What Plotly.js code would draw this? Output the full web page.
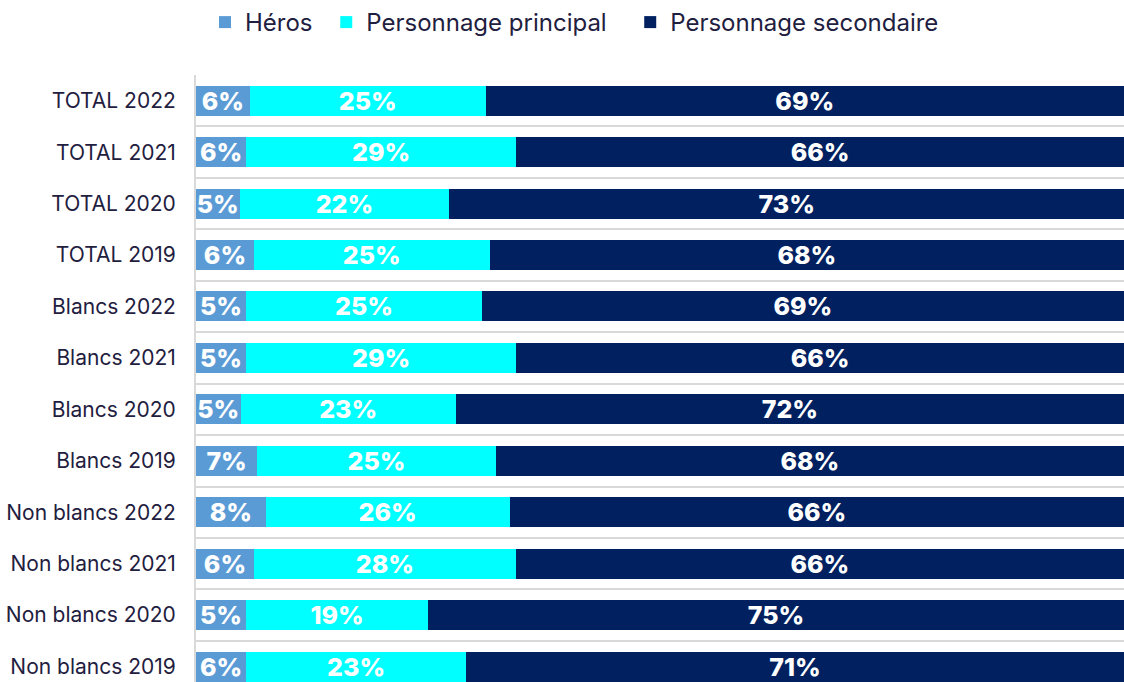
<!DOCTYPE html>
<html>
<head>
<meta charset="utf-8">
<script src="https://cdn.plot.ly/plotly-3.0.1.min.js"></script>
<style>html,body{margin:0;padding:0;background:#fff;}#chart{width:1124px;height:682px;}</style>
</head>
<body>
<div id="chart"></div>
<script>
var categories = ["TOTAL 2022","TOTAL 2021","TOTAL 2020","TOTAL 2019","Blancs 2022","Blancs 2021","Blancs 2020","Blancs 2019","Non blancs 2022","Non blancs 2021","Non blancs 2020","Non blancs 2019"];
var heros      = [5.8, 5.4, 4.7, 6.25, 5.4, 5.4, 4.8, 6.6, 7.5, 6.25, 5.4, 5.4];
var principal  = [25.4, 29.1, 22.6, 25.4, 25.4, 29.1, 23.2, 25.7, 26.3, 28.2, 19.6, 23.7];
var secondaire = [68.8, 65.5, 72.7, 68.35, 69.2, 65.5, 72.0, 67.7, 66.2, 65.55, 75.0, 70.9];
var herosLabels      = ["6%","6%","5%","6%","5%","5%","5%","7%","8%","6%","5%","6%"];
var principalLabels  = ["25%","29%","22%","25%","25%","29%","23%","25%","26%","28%","19%","23%"];
var secondaireLabels = ["69%","66%","73%","68%","69%","66%","72%","68%","66%","66%","75%","71%"];
var seriesNames = ["Héros","Personnage principal","Personnage secondaire"];
var nameSpacers = ["\u2009\u2009", "\u2002\u2009\u200A", ""];
var colors = ["#5B9BD5","#00FFFF","#002060"];

var labelFont = {family:"Inter, 'Open Sans', sans-serif", size:25, color:"#ffffff", weight:800};
function mk(vals, labels, i){
  return {
    type:"bar", orientation:"h", name:seriesNames[i] + nameSpacers[i],
    y:categories, x:vals, text:labels,
    textposition:"inside", insidetextanchor:"middle", textangle:0,
    constraintext:"none", cliponaxis:false,
    textfont:labelFont, marker:{color:colors[i], line:{width:0}},
    hoverinfo:"skip"
  };
}
var data = [mk(heros, herosLabels, 0), mk(principal, principalLabels, 1), mk(secondaire, secondaireLabels, 2)];

var layout = {
  width:1124, height:682,
  margin:{l:196, r:0, t:75, b:0},
  barmode:"stack", bargap:0.417,
  paper_bgcolor:"#fff", plot_bgcolor:"#fff",
  showlegend:true,
  legend:{orientation:"h", x:0.0097, xanchor:"left", y:1.087, yanchor:"middle",
          font:{family:"Inter, sans-serif", size:24, color:"#1f2040"}, traceorder:"normal"},
  xaxis:{range:[0,100], showgrid:false, zeroline:false, showticklabels:false, showline:false, fixedrange:true},
  yaxis:{type:"category", categoryorder:"array", categoryarray:categories,
         range:[11.3,-0.5], tickson:"boundaries", showgrid:true, gridcolor:"#d9d9d9", gridwidth:2,
         showline:true, linecolor:"#d9d9d9", linewidth:2, ticks:"", ticklabelstandoff:14,
         tickfont:{family:"Inter, sans-serif", size:21, color:"#1f2040"}, zeroline:false, fixedrange:true}
};
Plotly.newPlot("chart", data, layout, {displayModeBar:false, staticPlot:true});
</script>
</body>
</html>
